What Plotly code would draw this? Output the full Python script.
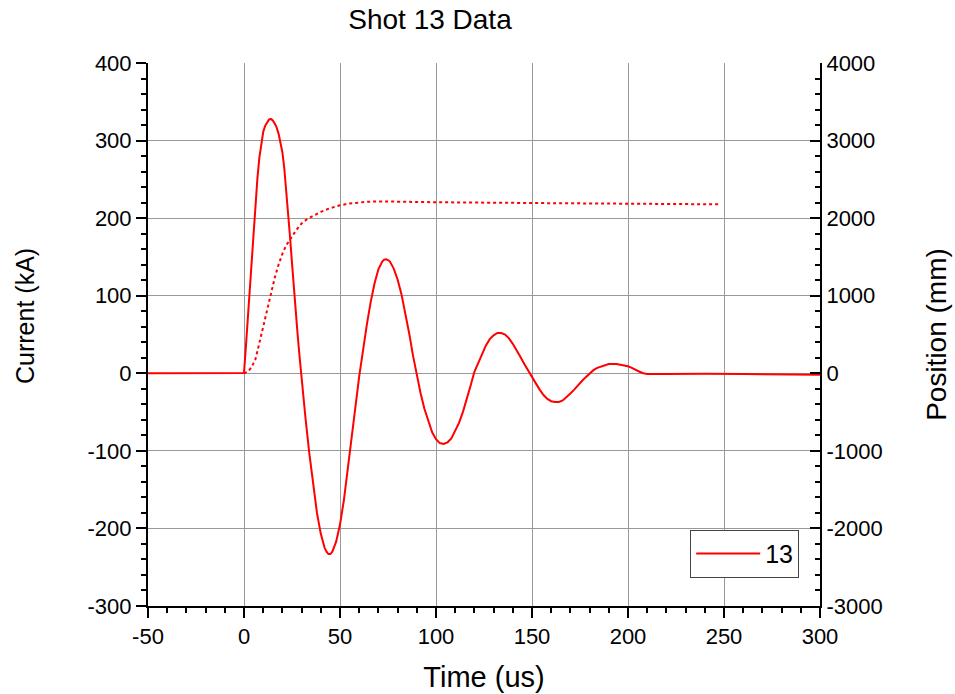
import plotly.graph_objects as go

# ---- data ----
time_us = [-50, -40, -30, -20, -10, -1, 0,
           1, 2, 3, 4, 5, 6, 7, 8, 9, 10, 11, 12, 13, 14, 15, 16, 17, 18, 19,
           20, 21, 22, 23, 24, 25, 26, 27, 28, 29, 30, 31,
           32, 34, 36, 38, 40, 42, 43, 44, 45, 46, 48, 50, 52, 54, 56, 58, 60,
           62, 64, 66, 68, 70, 72, 73, 74, 75, 76, 78, 80, 82, 84, 86, 88, 90,
           92, 94, 96, 98, 100, 102, 104, 106, 108, 110, 112, 114, 116, 118, 120,
           122, 124, 126, 128, 130, 132, 134, 136, 138, 140, 142, 144, 146, 148, 150,
           152, 154, 156, 158, 160, 162, 164, 166, 168, 170, 172, 174, 176, 178, 180,
           182, 184, 186, 188, 190, 192, 194, 196, 198, 200, 202, 204, 206, 208, 210,
           220, 240, 260, 280, 300]
current_kA = [0.2, 0.3, 0.0, -0.2, 0.1, 0.0, 0.5,
              35, 70, 105, 145, 184, 222, 252, 278, 297, 311, 319, 324, 327, 328, 326, 322, 317, 309, 299,
              285, 264, 237, 207, 175, 142, 106, 76, 48, 20, -8, -33,
              -57, -103, -144, -180, -207, -225, -230, -233, -233, -230, -217, -195, -164, -126, -84, -44, -4,
              33, 63, 92, 116, 134, 144, 146.5, 147, 146, 144, 135, 121, 102, 79, 52, 23, -4,
              -26, -46, -62, -76, -85, -90, -91, -89, -84, -75, -64, -50, -34, -16, 2,
              14, 26, 36, 44, 49, 52, 52, 50, 45, 38, 30, 21, 12, 3, -5,
              -13, -21, -28, -33, -36, -37, -37, -35, -31, -26, -21, -15, -10, -5, 0,
              4, 7, 9, 11, 12, 12, 12, 11, 10, 9, 7, 4, 2, 0, -1,
              -1, -0.5, -1, -1.5, -2]

pos_time_us = [0, 2, 4, 6, 8, 10, 12, 14, 16, 18, 20, 22, 24, 26, 28, 30, 33, 36, 40, 45,
               50, 55, 60, 65, 70, 80, 100, 150, 200, 248]
position_mm = [0, 20, 80, 185, 390, 600, 820, 1030, 1230, 1400, 1540, 1650, 1730, 1800, 1870,
               1930, 1990, 2030, 2080, 2130, 2165, 2190, 2205, 2212, 2216, 2215, 2205, 2195,
               2185, 2178]

x_ticks = [-50, 0, 50, 100, 150, 200, 250, 300]
x_ticklabels = ["-50", "0", "50", "100", "150", "200", "250", "300"]
y_ticks = [-300, -200, -100, 0, 100, 200, 300, 400]
y_ticklabels = ["-300", "-200", "-100", "0", "100", "200", "300", "400"]
y2_ticks = [-3000, -2000, -1000, 0, 1000, 2000, 3000, 4000]
y2_ticklabels = ["-3000", "-2000", "-1000", "0", "1000", "2000", "3000", "4000"]

legend_label = "13"
title_text = "Shot 13 Data"
y_title = "Current (kA)"

FONT = "Arial, 'Liberation Sans', sans-serif"
RED = "#ff0000"
GRID = "#999999"

W, H = 955, 694
ML, MR, MT, MB = 148, 135, 63, 88
PW, PH = W - ML - MR, H - MT - MB

fig = go.Figure()
fig.add_trace(go.Scatter(x=time_us, y=current_kA, mode="lines", name=legend_label,
                         line=dict(color=RED, width=2), yaxis="y"))
fig.add_trace(go.Scatter(x=pos_time_us, y=position_mm, mode="lines", showlegend=False,
                         line=dict(color=RED, width=2, dash="dot"), yaxis="y2"))

axis_common = dict(
    showline=True, linecolor="black", linewidth=2,
    tickcolor="black", tickwidth=2, ticklen=10,
    tickfont=dict(family=FONT, size=22, color="black"),
    zeroline=False, automargin=False, tickmode="array",
)

fig.update_layout(
    width=W, height=H,
    paper_bgcolor="white", plot_bgcolor="white",
    margin=dict(l=ML, r=MR, t=MT, b=MB),
    font=dict(family=FONT, color="black"),
    title=dict(text=title_text, x=430 / W, xref="container", xanchor="center",
               y=1 - 19 / H, yref="container", yanchor="middle",
               font=dict(family=FONT, size=28, color="black")),
    xaxis=dict(range=[-50, 300], tickvals=x_ticks, ticktext=x_ticklabels, ticks="outside",
               showgrid=True, gridcolor=GRID, gridwidth=1,
               minor=dict(tick0=0, dtick=10, ticks="outside", ticklen=5, tickwidth=2,
                          tickcolor="black", showgrid=False),
               title=dict(text="Time (us)", font=dict(family=FONT, size=29), standoff=18),
               **axis_common),
    yaxis=dict(range=[-300, 400], tickvals=y_ticks, ticktext=y_ticklabels, ticks="outside",
               showgrid=True, gridcolor=GRID, gridwidth=1,
               minor=dict(tick0=0, dtick=20, ticks="outside", ticklen=5, tickwidth=2,
                          tickcolor="black", showgrid=False),
               **axis_common),
    yaxis2=dict(range=[-3000, 4000], tickvals=y2_ticks, ticktext=y2_ticklabels,
                ticks="inside", overlaying="y", side="right", showgrid=False,
                minor=dict(tick0=0, dtick=200, ticks="inside", ticklen=5, tickwidth=2,
                           tickcolor="black", showgrid=False),
                title=dict(text="Position (mm)", font=dict(family=FONT, size=28), standoff=45),
                **axis_common),
    legend=dict(x=0.969, y=0.052, xanchor="right", yanchor="bottom",
                bgcolor="white", bordercolor="#444444", borderwidth=1,
                itemwidth=64,
                font=dict(family=FONT, size=25, color="black")),
    showlegend=True,
    annotations=[dict(text=y_title, textangle=-90, showarrow=False,
                      xref="paper", yref="paper",
                      x=(25 - ML) / PW, y=(H - MB - 316) / PH,
                      xanchor="center", yanchor="middle",
                      font=dict(family=FONT, size=25, color="black"))],
)

# remove the default page margin so the figure sits at the window's top-left corner
fig.write_html("out.html", config={"displayModeBar": False},
               post_script="document.body.style.margin='0';")
